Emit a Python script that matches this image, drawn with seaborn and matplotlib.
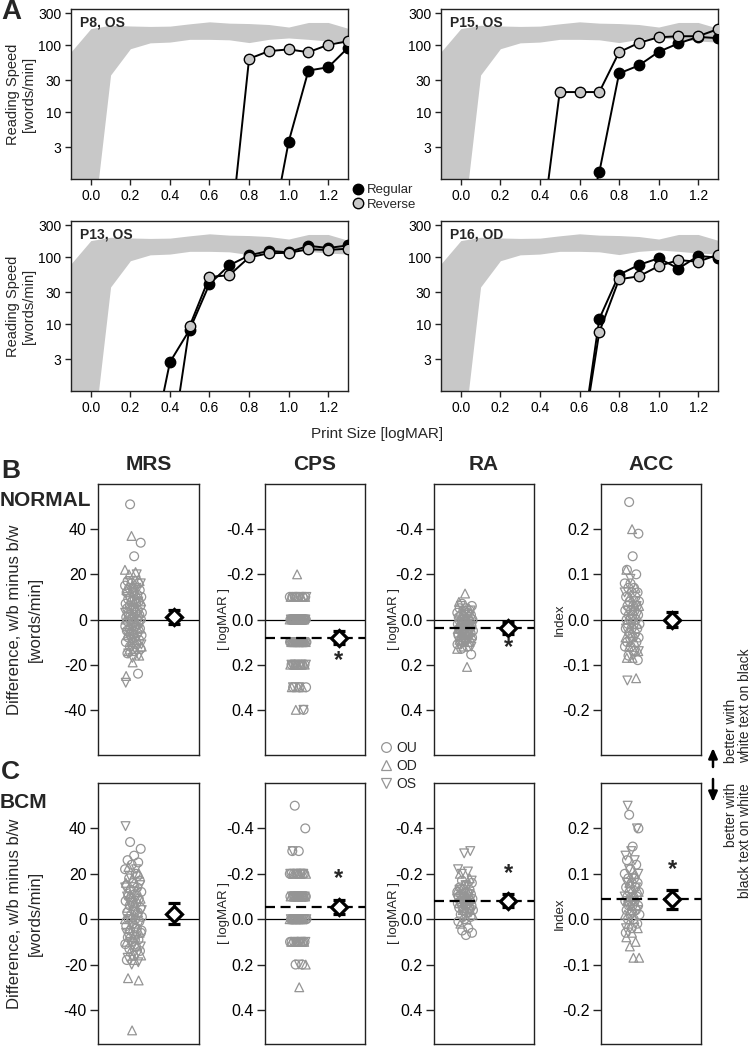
import numpy as np
import pandas as pd
import matplotlib
matplotlib.use("Agg")
import matplotlib.pyplot as plt
import seaborn as sns
from matplotlib.lines import Line2D
from matplotlib.patches import FancyArrowPatch

# ---------------- data: panel A (reading speed vs print size) ----------------
norm_size = [-0.1, 0.0, 0.1, 0.2, 0.3, 0.4, 0.5, 0.6, 0.7, 0.8, 0.9, 1.0, 1.1, 1.2, 1.3]
norm_upper = [80, 178, 200, 195, 192, 194, 210, 225, 215, 212, 205, 188, 220, 220, 180]
norm_lower = [0.05, 0.1, 36, 89, 109, 112, 123, 123, 121, 110, 123, 129, 123, 116, 112]

patient_titles = ["P8, OS", "P15, OS", "P13, OS", "P16, OD"]

p8_regular_size = [0.9, 1.0, 1.1, 1.2, 1.3]
p8_regular_speed = [0.1, 3.6, 42, 47, 92]
p8_reverse_size = [0.7, 0.8, 0.9, 1.0, 1.1, 1.2, 1.3]
p8_reverse_speed = [0.1, 63, 82, 87, 79, 102, 115]

p15_regular_size = [0.6, 0.7, 0.8, 0.9, 1.0, 1.1, 1.2, 1.3]
p15_regular_speed = [0.1, 1.26, 38, 50, 80, 107, 134, 128]
p15_reverse_size = [0.4, 0.5, 0.6, 0.7, 0.8, 0.9, 1.0, 1.1, 1.2, 1.3]
p15_reverse_speed = [0.1, 20, 20, 20, 79, 109, 132, 137, 137, 175]

p13_regular_size = [0.3, 0.4, 0.5, 0.6, 0.7, 0.8, 0.9, 1.0, 1.1, 1.2, 1.3]
p13_regular_speed = [0.1, 2.7, 8.3, 40, 76, 107, 125, 119, 149, 138, 151]
p13_reverse_size = [0.4, 0.5, 0.6, 0.7, 0.8, 0.9, 1.0, 1.1, 1.2, 1.3]
p13_reverse_speed = [0.1, 9.4, 51, 54, 100, 115, 117, 132, 129, 135]

p16_regular_size = [0.6, 0.7, 0.8, 0.9, 1.0, 1.1, 1.2, 1.3]
p16_regular_speed = [0.1, 12, 55, 77, 97, 68, 105, 99]
p16_reverse_size = [0.6, 0.7, 0.8, 0.9, 1.0, 1.1, 1.2, 1.3]
p16_reverse_speed = [0.1, 7.6, 47, 52, 74, 91, 86, 110]

a_yticks = [3, 10, 30, 100, 300]
a_xticks = [0.0, 0.2, 0.4, 0.6, 0.8, 1.0, 1.2]

# ---------------- data: panels B/C (differences w/b minus b/w) ----------------
measures = ["MRS", "CPS", "RA", "ACC"]

# NORMAL
b_mrs_ou = [51, 34, 28, 17, 16, 16, 15, 14, 14, 13, 12, 12, 11, 10, 10, 9, 9, 8, 8, 7, 7, 6, 6, 5,
            5, 4, 4, 3, 3, 2, 2, 1, 1, 0, 0, 0, -1, -1, -2, -2, -3, -3, -4, -4, -5, -5, -6, -6, -7,
            -8, -8, -9, -10, -10, -11, -12, -13, -14, -15, -24]
b_mrs_od = [37, 22, 21, 20, 17, 15, 13, 11, 9, 8, 6, 5, 3, 2, 0, -1, -3, -4, -6, -7, -9, -10, -12,
            -13, -14, -16, -19, -25]
b_mrs_os = [20, 17, 16, 12, 10, 8, 5, 3, 1, -1, -2, -4, -6, -8, -9, -11, -13, -15, -16, -17, -28, 14]

b_cps_levels = [-0.2, -0.1, 0.0, 0.1, 0.2, 0.3, 0.4]
b_cps_ou_counts = [0, 7, 18, 16, 7, 3, 1]
b_cps_od_counts = [1, 4, 8, 8, 5, 3, 1]
b_cps_os_counts = [0, 3, 8, 7, 4, 2, 1]

b_ra_ou = [-0.07, -0.06, -0.05, -0.05, -0.04, -0.04, -0.03, -0.03, -0.02, -0.02, -0.01, -0.01, 0.0,
           0.0, 0.0, 0.01, 0.01, 0.01, 0.02, 0.02, 0.02, 0.03, 0.03, 0.03, 0.04, 0.04, 0.04, 0.05,
           0.05, 0.05, 0.06, 0.06, 0.07, 0.07, 0.08, 0.08, 0.09, 0.09, 0.10, 0.10, 0.11, 0.12, 0.13,
           0.155]
b_ra_od = [-0.115, -0.078, -0.05, -0.03, -0.01, 0.0, 0.01, 0.02, 0.03, 0.04, 0.05, 0.06, 0.07, 0.08,
           0.09, 0.10, 0.12, 0.13, 0.21]
b_ra_os = [-0.06, -0.04, -0.02, 0.0, 0.01, 0.02, 0.03, 0.04, 0.05, 0.06, 0.07, 0.08, 0.09, 0.11, 0.12]

b_acc_ou = [0.26, 0.19, 0.14, 0.11, 0.10, 0.08, 0.08, 0.07, 0.07, 0.06, 0.06, 0.05, 0.05, 0.04, 0.04,
            0.03, 0.03, 0.03, 0.02, 0.02, 0.02, 0.01, 0.01, 0.01, 0.0, 0.0, 0.0, -0.01, -0.01, -0.01,
            -0.02, -0.02, -0.02, -0.03, -0.03, -0.04, -0.04, -0.05, -0.05, -0.06, -0.06, -0.07,
            -0.08, -0.09]
b_acc_od = [0.20, 0.11, 0.07, 0.05, 0.03, 0.02, 0.0, -0.01, -0.03, -0.04, -0.05, -0.06, -0.07,
            -0.085, -0.085, -0.13]
b_acc_os = [0.09, 0.06, 0.04, 0.02, 0.01, -0.01, -0.02, -0.04, -0.05, -0.07, -0.08, -0.135, 0.03]

b_mean = [1.1, 0.08, 0.037, 0.0]
b_err = [3.0, 0.03, 0.025, 0.016]
b_sig = [False, True, True, False]

# BCM
c_mrs_ou = [34, 31, 28, 26, 25, 24, 22, 20, 18, 17, 16, 15, 14, 13, 12, 11, 10, 9, 8, 8, 7, 6, 5, 4,
            3, 3, 2, 1, 0, 0, -1, -2, -3, -4, -5, -6, -7, -8, -9, -10, -11, -12, -13, -14, -16, -18,
            19, 9, -5, -9]
c_mrs_od = [23, 20, 18, 16, 13, 11, 9, 7, 5, 3, 1, 0, -2, -4, -6, -8, -10, -12, -14, -16, -18, -26,
            -27, -49]
c_mrs_os = [41, 22, 19, 15, 12, 10, 8, 6, 4, 2, 0, -2, -4, -6, -8, -10, -12, -15, -17, -19, -20, 14]

c_cps_levels = [-0.5, -0.4, -0.3, -0.2, -0.1, 0.0, 0.1, 0.2, 0.3]
c_cps_ou_counts = [1, 1, 2, 8, 12, 14, 8, 2, 0]
c_cps_od_counts = [0, 0, 0, 3, 6, 7, 5, 1, 1]
c_cps_os_counts = [0, 0, 1, 4, 6, 6, 3, 1, 0]

c_ra_ou = [-0.17, -0.16, -0.15, -0.14, -0.13, -0.13, -0.12, -0.12, -0.11, -0.11, -0.10, -0.10, -0.10,
           -0.09, -0.09, -0.09, -0.08, -0.08, -0.08, -0.07, -0.07, -0.07, -0.06, -0.06, -0.05, -0.05,
           -0.04, -0.04, -0.03, -0.02, -0.01, 0.0, 0.01, 0.04, 0.05, 0.06, 0.07]
c_ra_od = [-0.20, -0.18, -0.15, -0.13, -0.12, -0.10, -0.09, -0.08, -0.07, -0.06, -0.04, -0.02, 0.0, 0.02]
c_ra_os = [-0.30, -0.29, -0.22, -0.21, -0.20, -0.17, -0.15, -0.13, -0.11, -0.10, -0.09, -0.07, -0.05,
           -0.03, -0.01]

c_acc_ou = [0.23, 0.20, 0.16, 0.13, 0.12, 0.11, 0.10, 0.09, 0.09, 0.08, 0.08, 0.07, 0.07, 0.06, 0.06,
            0.05, 0.05, 0.05, 0.04, 0.04, 0.04, 0.03, 0.03, 0.03, 0.02, 0.02, 0.01, 0.01, 0.0, 0.0,
            -0.01, -0.02, -0.03]
c_acc_od = [0.10, 0.08, 0.06, 0.05, 0.04, 0.03, 0.02, 0.01, 0.0, -0.01, -0.02, -0.03, -0.04, -0.05,
            -0.06, -0.085, -0.085]
c_acc_os = [0.25, 0.20, 0.15, 0.14, 0.13, 0.11, 0.10, 0.09, 0.08, 0.07, 0.06, 0.05, 0.04, 0.03, 0.02,
            0.01, -0.02]

c_mean = [2.5, -0.054, -0.081, 0.0435]
c_err = [4.7, 0.03, 0.028, 0.021]
c_sig = [False, True, True, True]

mrs_ticks = [-40, -20, 0, 20, 40]
mrs_labels = ["-40", "-20", "0", "20", "40"]
mar_ticks = [-0.4, -0.2, 0.0, 0.2, 0.4]
mar_labels = ["-0.4", "-0.2", "0.0", "0.2", "0.4"]
acc_ticks = [-0.2, -0.1, 0.0, 0.1, 0.2]
acc_labels = ["-0.2", "-0.1", "0.0", "0.1", "0.2"]

# ---------------- style ----------------
sns.set_theme(style="ticks")
plt.rcParams["font.family"] = ["Liberation Sans", "DejaVu Sans"]
plt.rcParams["axes.edgecolor"] = "#222222"
plt.rcParams["axes.linewidth"] = 1.0
plt.rcParams["axes.unicode_minus"] = False

W, H = 750, 1055
fig = plt.figure(figsize=(W / 100, H / 100), dpi=100)
fig.patch.set_facecolor("white")


def rect(l, t, r, b):
    return [l / W, 1 - b / H, (r - l) / W, (b - t) / H]


def fx(x):
    return x / W


def fy(y):
    return 1 - y / H


BAND = "#c8c8c8"
GRAY = "#959595"

# ---------------- panel A ----------------
a_rects = [rect(71, 9, 348, 179), rect(441, 9, 718, 179),
           rect(71, 221, 348, 391), rect(441, 221, 718, 391)]
a_series = [
    (p8_regular_size, p8_regular_speed, p8_reverse_size, p8_reverse_speed),
    (p15_regular_size, p15_regular_speed, p15_reverse_size, p15_reverse_speed),
    (p13_regular_size, p13_regular_speed, p13_reverse_size, p13_reverse_speed),
    (p16_regular_size, p16_regular_speed, p16_reverse_size, p16_reverse_speed),
]

for rc, title, (rx, ry, vx, vy) in zip(a_rects, patient_titles, a_series):
    ax = fig.add_axes(rc)
    ax.set_yscale("log")
    ax.fill_between(norm_size, norm_lower, norm_upper, color=BAND, lw=0, zorder=1)
    sns.lineplot(x=rx, y=ry, ax=ax, color="black", lw=1.4, marker="o", markersize=7.5,
                 markerfacecolor="black", markeredgecolor="black", markeredgewidth=1.0,
                 estimator=None, sort=False, zorder=3)
    sns.lineplot(x=vx, y=vy, ax=ax, color="black", lw=1.4, marker="o", markersize=7.5,
                 markerfacecolor=BAND, markeredgecolor="black", markeredgewidth=1.0,
                 estimator=None, sort=False, zorder=4)
    ax.set_xlim(-0.1, 1.3)
    ax.set_ylim(1, 350)
    ax.set_yticks(a_yticks)
    ax.set_yticklabels([str(v) for v in a_yticks])
    ax.yaxis.set_minor_locator(matplotlib.ticker.NullLocator())
    ax.set_xticks(a_xticks)
    ax.set_xticklabels([f"{v:.1f}" for v in a_xticks])
    ax.tick_params(axis="both", direction="out", length=4, width=1, labelsize=10, pad=3,
                   colors="#222222", labelcolor="black")
    ax.set_xlabel("")
    ax.set_ylabel("")
    for sp in ax.spines.values():
        sp.set_visible(True)
        sp.set_linewidth(1.0)
    ax.text(0.032, 0.92, title, transform=ax.transAxes, fontsize=10, fontweight="bold",
            ha="left", va="center", zorder=6)

for yc in [94, 306]:
    fig.text(fx(21), fy(yc), "Reading Speed\n[words/min]", rotation=90, ha="center",
             va="center", fontsize=10.5, linespacing=1.25)

fig.text(fx(377), fy(434), "Print Size [logMAR]", ha="center", va="center", fontsize=11)
fig.text(fx(1), fy(12), "A", ha="left", va="center", fontsize=20, fontweight="bold")

leg_a = fig.legend(
    handles=[Line2D([], [], marker="o", ls="", ms=7.5, mfc="black", mec="black"),
             Line2D([], [], marker="o", ls="", ms=7.5, mfc=BAND, mec="black")],
    labels=["Regular", "Reverse"], loc="upper left", bbox_to_anchor=(fx(353), fy(184)),
    frameon=False, fontsize=9.5, handlelength=0.7, handletextpad=0.35, labelspacing=0.2,
    borderpad=0, borderaxespad=0)

# ---------------- panels B / C ----------------
col_l = [98, 265, 434, 601]
col_r = [199, 365, 534, 701]
centers = [0.35, 0.33, 0.31, 0.31]
widths = [0.085, 0.085, 0.08, 0.075]
dia_x = [0.75, 0.74, 0.74, 0.71]


def spread_frame(ou, od, os_, center, width):
    vals = list(ou) + list(od) + list(os_)
    eyes = ["OU"] * len(ou) + ["OD"] * len(od) + ["OS"] * len(os_)
    n = len(vals)
    u = (np.arange(n) * 0.6180339887 + 0.31) % 1.0
    x = center + (u - 0.5) * 2 * width
    return pd.DataFrame({"x": x, "val": vals, "eye": eyes})


rows = {
    "B": dict(top=484, bot=755,
              data=[(b_mrs_ou, b_mrs_od, b_mrs_os),
                    (np.repeat(b_cps_levels, b_cps_ou_counts), np.repeat(b_cps_levels, b_cps_od_counts),
                     np.repeat(b_cps_levels, b_cps_os_counts)),
                    (b_ra_ou, b_ra_od, b_ra_os),
                    (b_acc_ou, b_acc_od, b_acc_os)],
              mean=b_mean, err=b_err, sig=b_sig,
              ylims=[(-60, 60), (0.6, -0.6), (0.6, -0.6), (-0.3, 0.3)],
              star=[None, 0.18, 0.125, None]),
    "C": dict(top=783, bot=1044,
              data=[(c_mrs_ou, c_mrs_od, c_mrs_os),
                    (np.repeat(c_cps_levels, c_cps_ou_counts), np.repeat(c_cps_levels, c_cps_od_counts),
                     np.repeat(c_cps_levels, c_cps_os_counts)),
                    (c_ra_ou, c_ra_od, c_ra_os),
                    (c_acc_ou, c_acc_od, c_acc_os)],
              mean=c_mean, err=c_err, sig=c_sig,
              ylims=[(-55, 60), (0.55, -0.6), (0.55, -0.6), (-0.275, 0.3)],
              star=[None, -0.18, -0.2, 0.11]),
}

tick_sets = [(mrs_ticks, mrs_labels), (mar_ticks, mar_labels), (mar_ticks, mar_labels),
             (acc_ticks, acc_labels)]
side_labels = [None, "[ logMAR ]", "[ logMAR ]", "Index"]
side_label_x = [None, 224, 394, 560]

for key, row in rows.items():
    for j in range(4):
        ax = fig.add_axes(rect(col_l[j], row["top"], col_r[j], row["bot"]))
        ou, od, os_ = row["data"][j]
        df = spread_frame(ou, od, os_, centers[j], widths[j])
        ax.axhline(0, color="black", lw=0.9, zorder=2)
        sns.scatterplot(data=df, x="x", y="val", style="eye", style_order=["OU", "OD", "OS"],
                        markers={"OU": "o", "OD": "^", "OS": "v"}, s=40, color=GRAY,
                        linewidth=0.9, legend=False, ax=ax, zorder=3)
        pc = ax.collections[-1]
        pc.set_facecolor("none")
        pc.set_edgecolor(GRAY)
        pc.set_linewidth(0.9)
        if row["sig"][j]:
            ax.axhline(row["mean"][j], color="black", lw=1.6, ls=(0, (4.5, 2.5)), zorder=4)
        ax.errorbar([dia_x[j]], [row["mean"][j]], yerr=[row["err"][j]], fmt="D", ms=7.8,
                    mfc="white", mec="black", mew=2.3, ecolor="black", elinewidth=2.0,
                    capsize=4.5, capthick=2.0, zorder=6)
        if row["star"][j] is not None:
            ax.text(dia_x[j], row["star"][j], "*", ha="center", va="center", fontsize=17,
                    fontweight="bold", zorder=7)
        ax.set_xlim(0, 1)
        ax.set_ylim(*row["ylims"][j])
        ticks, labels = tick_sets[j]
        ax.set_yticks(ticks)
        ax.set_yticklabels(labels)
        ax.set_xticks([])
        ax.set_xlabel("")
        ax.set_ylabel("")
        ax.tick_params(axis="y", direction="out", length=6, width=1, labelsize=11.5, pad=2,
                       colors="#222222", labelcolor="black")
        for sp in ax.spines.values():
            sp.set_visible(True)
            sp.set_linewidth(1.0)
        yc = (row["top"] + row["bot"]) / 2
        if side_labels[j]:
            fig.text(fx(side_label_x[j]), fy(yc), side_labels[j], rotation=90, ha="center",
                     va="center", fontsize=9.5)
    yc = (row["top"] + row["bot"]) / 2
    fig.text(fx(25), fy(yc), "Difference, w/b minus b/w\n[words/min]", rotation=90,
             ha="center", va="center", fontsize=12, linespacing=1.45)

for j, m in enumerate(measures):
    fig.text(fx((col_l[j] + col_r[j]) / 2), fy(464), m, ha="center", va="center",
             fontsize=15, fontweight="bold")

fig.text(fx(1), fy(471), "B", ha="left", va="center", fontsize=19, fontweight="bold")
fig.text(fx(0), fy(501), "NORMAL", ha="left", va="center", fontsize=15, fontweight="bold")
fig.text(fx(1), fy(772), "C", ha="left", va="center", fontsize=19, fontweight="bold")
fig.text(fx(0), fy(802), "BCM", ha="left", va="center", fontsize=15, fontweight="bold")

leg_e = fig.legend(
    handles=[Line2D([], [], marker=m, ls="", ms=7, mfc="none", mec=GRAY, mew=0.9)
             for m in ["o", "^", "v"]],
    labels=["OU", "OD", "OS"], loc="upper left", bbox_to_anchor=(fx(380), fy(741)),
    frameon=False, fontsize=10, handlelength=0.8, handletextpad=0.4, labelspacing=0.3,
    borderpad=0, borderaxespad=0)

# direction annotation
arrow_style = "-|>,head_length=0.5,head_width=0.22"
fig.add_artist(FancyArrowPatch((fx(713), fy(767)), (fx(713), fy(748)), transform=fig.transFigure,
                               arrowstyle=arrow_style, mutation_scale=12, lw=1.8, color="black",
                               shrinkA=0, shrinkB=0))
fig.add_artist(FancyArrowPatch((fx(713), fy(779)), (fx(713), fy(802)), transform=fig.transFigure,
                               arrowstyle=arrow_style, mutation_scale=12, lw=1.8, color="black",
                               shrinkA=0, shrinkB=0))
fig.text(fx(738), fy(763), "better with\nwhite text on black", rotation=90, ha="center",
         va="bottom", fontsize=10, linespacing=0.95, multialignment="left")
fig.text(fx(738), fy(783), "better with\nblack text on white", rotation=90, ha="center",
         va="top", fontsize=10, linespacing=0.95, multialignment="right")

fig.savefig("out.png", dpi=100, facecolor="white")
